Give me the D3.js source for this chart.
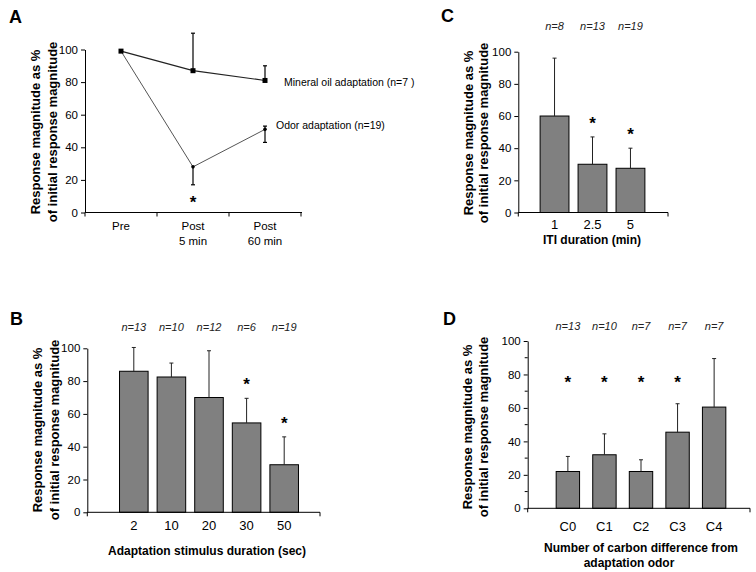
<!DOCTYPE html>
<html>
<head>
<meta charset="utf-8">
<script src="https://cdn.jsdelivr.net/npm/d3@7"></script>
<style>
  body { margin: 0; background: #fff; }
  svg { font-family: Arial, "Liberation Sans", sans-serif; }
</style>
</head>
<body>
<div id="chart"></div>
<script>
// Panel A - line chart
const aCategories = ['Pre', 'Post|5 min', 'Post|60 min'];
const aMineral = [99, 87, 81];
const aMineralErrUp = [0, 23, 9];
const aMineralErrDown = [0, 0, 0];
const aOdor = [99, 28, 51];
const aOdorErrUp = [0, 0, 2];
const aOdorErrDown = [0, 11, 8];
const aSig = [false, true, false];

// Panel B
const bCategories = ['2', '10', '20', '30', '50'];
const bValues = [86, 82.5, 70, 54.5, 29];
const bErrors = [14.5, 8.5, 28.5, 15, 17];
const bN = ['13', '10', '12', '6', '19'];
const bSig = [false, false, false, true, true];

// Panel C
const cCategories = ['1', '2.5', '5'];
const cValues = [60, 30, 27.5];
const cErrors = [36, 17, 12.5];
const cN = ['8', '13', '19'];
const cSig = [false, true, true];

// Panel D
const dCategories = ['C0', 'C1', 'C2', 'C3', 'C4'];
const dValues = [22, 32, 22, 45.5, 60.5];
const dErrors = [9, 12.5, 7, 17, 29];
const dN = ['13', '10', '7', '7', '7'];
const dSig = [true, true, true, true, false];

const yTicks = [0, 20, 40, 60, 80, 100];

const svg = d3.select('#chart').append('svg')
  .attr('width', 756)
  .attr('height', 572);

svg.append('rect').attr('width', 756).attr('height', 572).attr('fill', '#fff');

function panelLetter(txt, x, y) {
  svg.append('text')
    .attr('x', x).attr('y', y)
    .style('font-size', '18px')
    .style('font-weight', 'bold')
    .text(txt);
}

function drawYAxis(y, x0, minor) {
  const g = svg.append('g')
    .attr('transform', `translate(${x0},0)`)
    .call(d3.axisLeft(y).tickValues(yTicks).tickSize(4).tickSizeOuter(0).tickPadding(3));
  g.select('.domain').attr('stroke', '#000');
  g.selectAll('text').style('font-size', '11.5px').attr('fill', '#000');
  if (minor) {
    g.selectAll('.minor')
      .data([10, 30, 50, 70, 90])
      .enter()
      .append('line')
      .attr('x1', -3).attr('x2', 0)
      .attr('y1', (d) => y(d)).attr('y2', (d) => y(d))
      .attr('stroke', '#000');
  }
}

function yTitle(cx, cy, gap) {
  const g = svg.append('g').attr('transform', `translate(${cx},${cy}) rotate(-90)`);
  g.append('text')
    .attr('x', 0).attr('y', -gap / 2)
    .attr('text-anchor', 'middle')
    .style('font-size', '13px')
    .style('font-weight', 'bold')
    .text('Response magnitude as %');
  g.append('text')
    .attr('x', 0).attr('y', gap / 2)
    .attr('text-anchor', 'middle')
    .style('font-size', '13px')
    .style('font-weight', 'bold')
    .text('of initial response magnitude');
}

function xAxisLine(x0, x1, yPos, ticks) {
  svg.append('line')
    .attr('x1', x0).attr('x2', x1)
    .attr('y1', yPos).attr('y2', yPos)
    .attr('stroke', '#000');
  svg.selectAll(null)
    .data(ticks)
    .enter()
    .append('line')
    .attr('x1', (d) => d).attr('x2', (d) => d)
    .attr('y1', yPos).attr('y2', yPos + 4)
    .attr('stroke', '#000');
}

function star(x, y) {
  svg.append('text')
    .attr('x', x).attr('y', y + 9)
    .attr('text-anchor', 'middle')
    .style('font-size', '17px')
    .style('font-weight', 'bold')
    .text('*');
}

function barPanel(cats, vals, errs, ns, sig, x, y, axisX0, axisX1, labelY, nY, sigY) {
  const bw = x.bandwidth();
  svg.selectAll(null)
    .data(vals)
    .enter()
    .append('rect')
    .attr('x', (d, i) => x(cats[i]))
    .attr('y', (d) => y(d))
    .attr('width', bw)
    .attr('height', (d) => y(0) - y(d))
    .attr('fill', '#808080')
    .attr('stroke', '#000')
    .attr('stroke-width', 1);

  // error bars (upper only)
  const eb = svg.append('g').attr('stroke', '#222').attr('stroke-width', 1);
  vals.forEach((v, i) => {
    const cx = x(cats[i]) + bw / 2;
    eb.append('line').attr('x1', cx).attr('x2', cx).attr('y1', y(v)).attr('y2', y(v + errs[i]));
    eb.append('line').attr('x1', cx - 2).attr('x2', cx + 2).attr('y1', y(v + errs[i])).attr('y2', y(v + errs[i]));
  });

  xAxisLine(axisX0, axisX1, y(0), [axisX0, axisX1]);

  svg.selectAll(null)
    .data(cats)
    .enter()
    .append('text')
    .attr('x', (d) => x(d) + bw / 2)
    .attr('y', labelY)
    .attr('text-anchor', 'middle')
    .style('font-size', '13px')
    .text((d) => d);

  svg.selectAll(null)
    .data(ns)
    .enter()
    .append('text')
    .attr('x', (d, i) => x(cats[i]) + bw / 2)
    .attr('y', nY)
    .attr('text-anchor', 'middle')
    .style('font-size', '11px')
    .style('font-style', 'italic')
    .attr('fill', '#222')
    .text((d) => 'n=' + d);

  sig.forEach((s, i) => {
    if (!s) return;
    const cx = x(cats[i]) + bw / 2;
    const sy = sigY ? sigY : y(vals[i] + errs[i]) - 17;
    star(cx, sy);
  });
}

// ---------- Panel A ----------
panelLetter('A', 9, 23);
const xA = d3.scaleBand().domain(aCategories).range([85, 301]);
const yA = d3.scaleLinear().domain([0, 100]).range([212.5, 49.5]);
drawYAxis(yA, 85, false);
yTitle(48, 132, 17);
xAxisLine(85, 302, yA(0), [85, 157, 229, 301]);
const cxA = (d) => xA(d) + xA.bandwidth() / 2;

aCategories.forEach((c, i) => {
  const lines = c.split('|');
  const t = svg.append('text')
    .attr('x', cxA(c))
    .attr('y', 230)
    .attr('text-anchor', 'middle')
    .style('font-size', '11.5px');
  lines.forEach((l, j) => {
    t.append('tspan').attr('x', cxA(c)).attr('dy', j === 0 ? 0 : 15).text(l);
  });
});

const lineA = d3.line()
  .x((d, i) => cxA(aCategories[i]))
  .y((d) => yA(d));

svg.append('path').datum(aMineral)
  .attr('d', lineA).attr('fill', 'none')
  .attr('stroke', '#222').attr('stroke-width', 1.2);
svg.append('path').datum(aOdor)
  .attr('d', lineA).attr('fill', 'none')
  .attr('stroke', '#555').attr('stroke-width', 1);

function errA(vals, up, down) {
  const g = svg.append('g').attr('stroke', '#000').attr('stroke-width', 1.2);
  vals.forEach((v, i) => {
    const cx = cxA(aCategories[i]);
    if (up[i] > 0) {
      g.append('line').attr('x1', cx).attr('x2', cx).attr('y1', yA(v)).attr('y2', yA(v + up[i]));
      g.append('line').attr('x1', cx - 2).attr('x2', cx + 2).attr('y1', yA(v + up[i])).attr('y2', yA(v + up[i]));
    }
    if (down[i] > 0) {
      g.append('line').attr('x1', cx).attr('x2', cx).attr('y1', yA(v)).attr('y2', yA(v - down[i]));
      g.append('line').attr('x1', cx - 2).attr('x2', cx + 2).attr('y1', yA(v - down[i])).attr('y2', yA(v - down[i]));
    }
  });
}
errA(aMineral, aMineralErrUp, aMineralErrDown);
errA(aOdor, aOdorErrUp, aOdorErrDown);

svg.selectAll(null)
  .data(aMineral)
  .enter()
  .append('rect')
  .attr('x', (d, i) => cxA(aCategories[i]) - 2.5)
  .attr('y', (d) => yA(d) - 2.5)
  .attr('width', 5).attr('height', 5)
  .attr('fill', '#000');
svg.selectAll(null)
  .data(aOdor.slice(1))
  .enter()
  .append('circle')
  .attr('cx', (d, i) => cxA(aCategories[i + 1]))
  .attr('cy', (d) => yA(d))
  .attr('r', 1.8)
  .attr('fill', '#000');

aSig.forEach((s, i) => {
  if (s) star(cxA(aCategories[i]), 199);
});

svg.append('text')
  .attr('x', 284).attr('y', 86)
  .style('font-size', '10.5px')
  .text('Mineral oil adaptation (n=7 )');
svg.append('text')
  .attr('x', 276).attr('y', 129)
  .style('font-size', '10.5px')
  .text('Odor adaptation (n=19)');

// ---------- Panel B ----------
panelLetter('B', 10, 325);
const xB = d3.scaleBand().domain(bCategories).range([110.5, 307.5]).padding(0.24);
const yB = d3.scaleLinear().domain([0, 100]).range([512.3, 348.3]);
drawYAxis(yB, 87.3, false);
yTitle(50, 430, 17);
barPanel(bCategories, bValues, bErrors, bN, bSig, xB, yB, 87.3, 320, 530, 331, null);
svg.append('text')
  .attr('x', 207).attr('y', 555)
  .attr('text-anchor', 'middle')
  .style('font-size', '12px')
  .style('font-weight', 'bold')
  .text('Adaptation stimulus duration (sec)');

// ---------- Panel C ----------
panelLetter('C', 441, 22);
const xC = d3.scaleBand().domain(cCategories).range([531, 654]).padding(0.24);
const yC = d3.scaleLinear().domain([0, 100]).range([212.5, 51.7]);
drawYAxis(yC, 518.3, false);
yTitle(480, 133, 15);
barPanel(cCategories, cValues, cErrors, cN, cSig, xC, yC, 518.3, 668, 229, 30, null);
svg.append('text')
  .attr('x', 592).attr('y', 244)
  .attr('text-anchor', 'middle')
  .style('font-size', '12px')
  .style('font-weight', 'bold')
  .text('ITI duration (min)');

// ---------- Panel D ----------
panelLetter('D', 443, 325);
const xD = d3.scaleBand().domain(dCategories).range([543, 739]).padding(0.36);
const yD = d3.scaleLinear().domain([0, 100]).range([508.3, 341]);
drawYAxis(yD, 527.7, true);
yTitle(480, 427, 16);
barPanel(dCategories, dValues, dErrors, dN, dSig, xD, yD, 527.7, 750, 531, 330, 379);
svg.append('text')
  .attr('x', 641).attr('y', 552)
  .attr('text-anchor', 'middle')
  .style('font-size', '12px')
  .style('font-weight', 'bold')
  .text('Number of carbon difference from');
svg.append('text')
  .attr('x', 629).attr('y', 567)
  .attr('text-anchor', 'middle')
  .style('font-size', '12px')
  .style('font-weight', 'bold')
  .text('adaptation odor');
</script>
</body>
</html>
